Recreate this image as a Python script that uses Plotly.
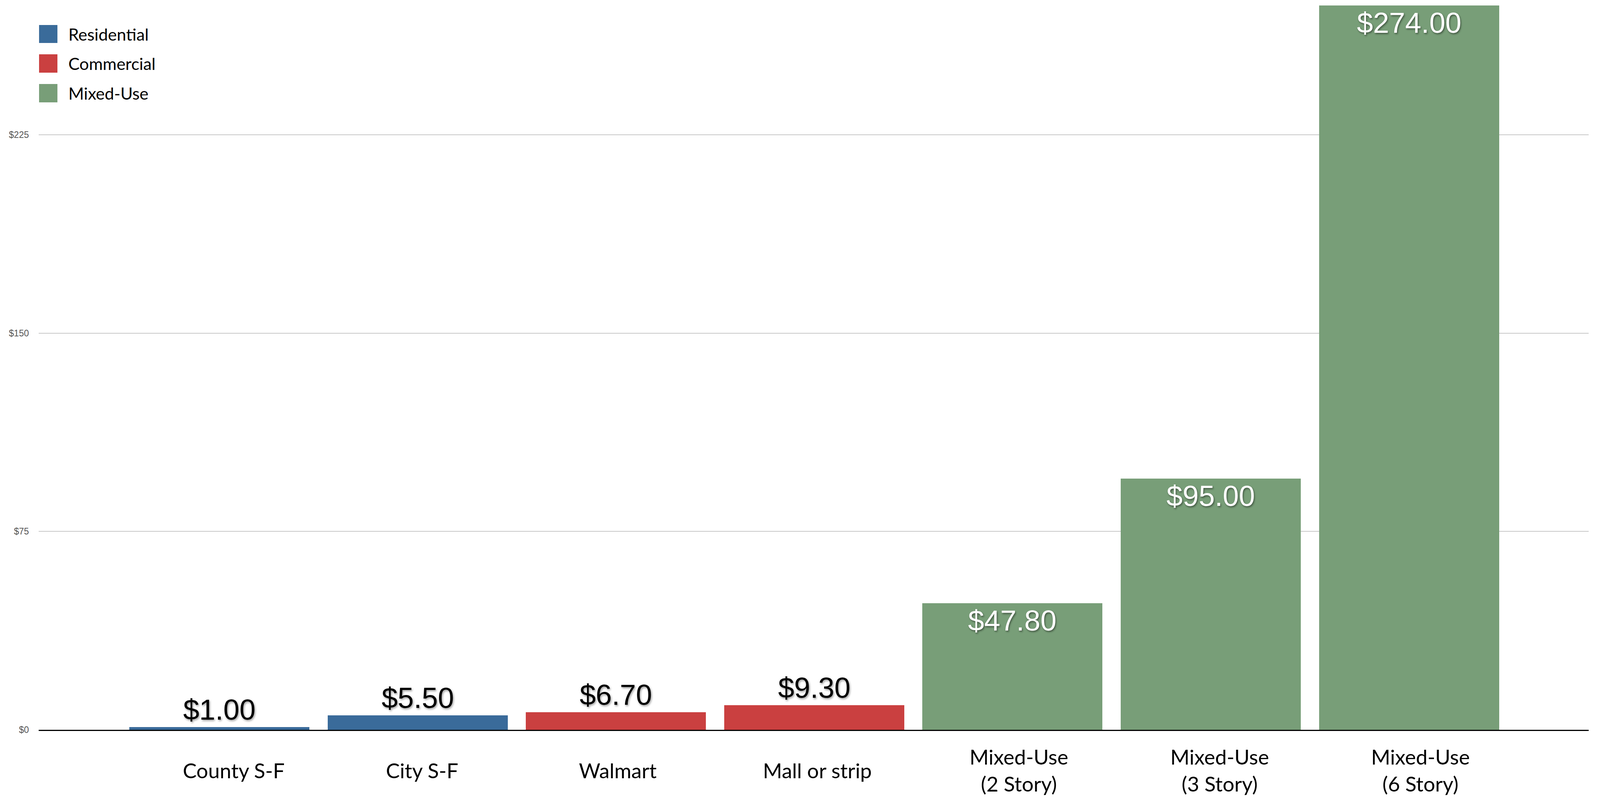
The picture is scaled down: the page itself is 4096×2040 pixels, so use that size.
import plotly.graph_objects as go

# ---- data ----
categories = ["County S-F", "City S-F", "Walmart", "Mall or strip",
              "Mixed-Use<br>(2 Story)", "Mixed-Use<br>(3 Story)", "Mixed-Use<br>(6 Story)"]
series_names = ["Residential", "Commercial", "Mixed-Use"]
series_colors = ["#3A6B9A", "#CA4040", "#789E78"]
residential_x = ["County S-F", "City S-F"]
residential_y = [1.00, 5.50]
commercial_x = ["Walmart", "Mall or strip"]
commercial_y = [6.70, 9.30]
mixed_x = ["Mixed-Use<br>(2 Story)", "Mixed-Use<br>(3 Story)", "Mixed-Use<br>(6 Story)"]
mixed_y = [47.80, 95.00, 274.00]
y_tickvals = [0, 75, 150, 225]
y_ticktext = ["$0", "$75", "$150", "$225"]

# label horizontal offsets (pixels, styling only)
label_xshift = [37, 11, 5, 8, 17, 23, 29]

W, H = 4096, 2040
L, R, T, B = 99, 29, 0, 172
PW, PH = W - L - R, H - T - B


def px2paper(px, py):
    return (px - L) / PW, 1 - (py - T) / PH


val_font = "Liberation Sans, Arial, sans-serif"
lab_font = "Lato, Noto Sans, sans-serif"

fig = go.Figure()
specs = [
    (residential_x, residential_y, series_colors[0], "outside", "black",
     "2px 3px 5px rgba(0,0,0,0.4)"),
    (commercial_x, commercial_y, series_colors[1], "outside", "black",
     "2px 3px 5px rgba(0,0,0,0.4)"),
    (mixed_x, mixed_y, series_colors[2], "inside", "white",
     "2px 3px 4px rgba(0,0,0,0.45)"),
]
for (xs, ys, col, tpos, tcol, shadow), name in zip(specs, series_names):
    fig.add_trace(go.Bar(
        x=xs, y=ys, name=name, marker=dict(color=col, line=dict(width=0)),
        width=0.908,
        texttemplate="$%{y:.2f}", textposition=tpos, insidetextanchor="end",
        textangle=0, constraintext="none", cliponaxis=False,
        textfont=dict(family=val_font, size=74, color=tcol, shadow=shadow),
        showlegend=False,
    ))

# category labels
for c, dx in zip(categories, label_xshift):
    fig.add_annotation(x=c, xref="x", y=-103 / PH, yref="paper", xshift=dx,
                       text=c, showarrow=False, yanchor="middle", xanchor="center",
                       align="center", font=dict(family=lab_font, size=53, color="black"))

# legend (manual, large swatches)
legend_rows = [(64, 110), (139, 186), (215, 262)]
for name, col, (y0, y1) in zip(series_names, series_colors, legend_rows):
    ax0, ay0 = px2paper(100, y0)
    ax1, ay1 = px2paper(147, y1)
    fig.add_shape(type="rect", xref="paper", yref="paper", x0=ax0, x1=ax1,
                  y0=ay1, y1=ay0, fillcolor=col, line=dict(width=0))
    tx, ty = px2paper(173, (y0 + y1) / 2)
    fig.add_annotation(x=tx, y=ty, xref="paper", yref="paper", text=name,
                       showarrow=False, xanchor="left", yanchor="middle",
                       font=dict(family=lab_font, size=43, color="black"))

fig.update_layout(
    width=W, height=H, margin=dict(l=L, r=R, t=T, b=B),
    paper_bgcolor="white", plot_bgcolor="white",
    barmode="overlay", bargap=0,
    showlegend=False,
    xaxis=dict(type="category", categoryorder="array", categoryarray=categories,
               range=[-0.911, 6.906], showticklabels=False, showgrid=False,
               showline=True, linecolor="black", linewidth=3, ticks="",
               zeroline=False),
    yaxis=dict(range=[0, 276], tickvals=y_tickvals, ticktext=y_ticktext,
               showgrid=True, gridcolor="#c8c8c8", gridwidth=2,
               zeroline=False, showline=False, ticks="", ticklabelstandoff=24,
               tickfont=dict(family=val_font, size=23, color="#555555")),
)

fig.write_html("out.html", config={"displayModeBar": False},
               post_script="document.body.style.margin='0';document.body.style.overflow='hidden';")
